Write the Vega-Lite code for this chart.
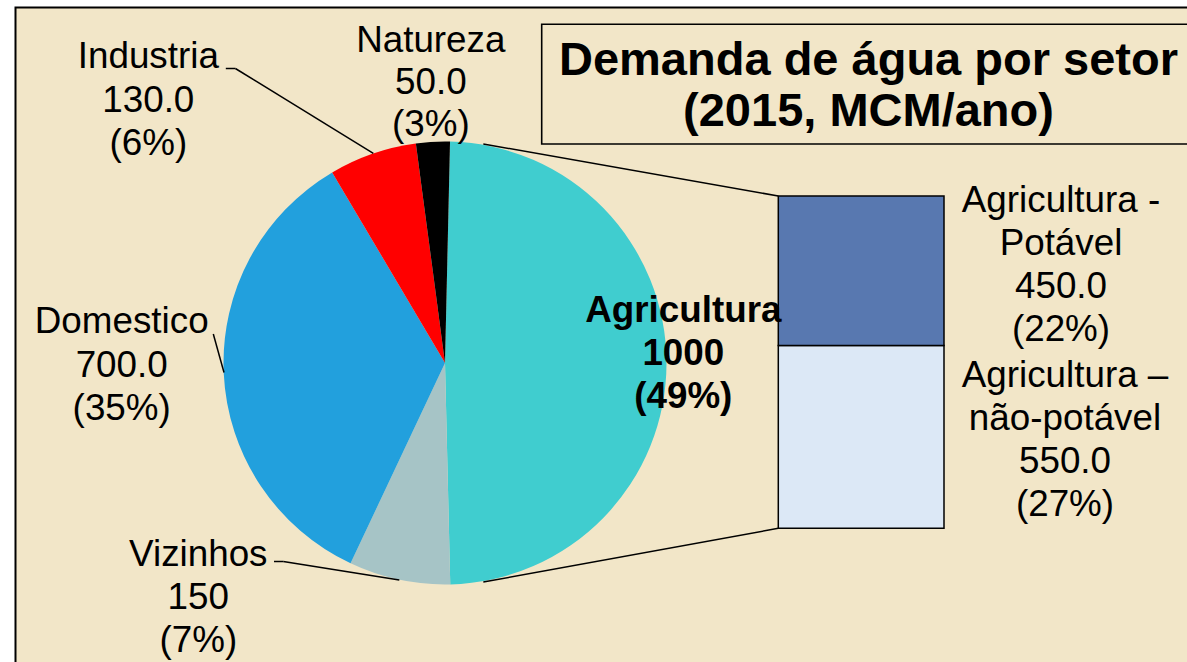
{
  "$schema": "https://vega.github.io/schema/vega-lite/v6.json",
  "width": 1187,
  "height": 662,
  "autosize": "none",
  "padding": 0,
  "background": "white",
  "config": {"view": {"stroke": null}, "font": "Liberation Sans"},
  "datasets": {
    "pie": [
      {"sector": "Agricultura", "value": 1000, "order": 1, "label": ["Agricultura", "1000", "(49%)"]},
      {"sector": "Vizinhos", "value": 150, "order": 2, "label": ["Vizinhos", "150", "(7%)"]},
      {"sector": "Domestico", "value": 700, "order": 3, "label": ["Domestico", "700.0", "(35%)"]},
      {"sector": "Industria", "value": 130, "order": 4, "label": ["Industria", "130.0", "(6%)"]},
      {"sector": "Natureza", "value": 50, "order": 5, "label": ["Natureza", "50.0", "(3%)"]}
    ],
    "bar": [
      {"sector": "Agricultura – não-potável", "value": 550, "order": 1, "label": ["Agricultura –", "não-potável", "550.0", "(27%)"]},
      {"sector": "Agricultura - Potável", "value": 450, "order": 2, "label": ["Agricultura -", "Potável", "450.0", "(22%)"]}
    ]
  },
  "layer": [
    {
      "data": {"values": [{}]},
      "mark": {"type": "rect", "fill": "#F2E6C8", "stroke": "black", "strokeWidth": 2},
      "encoding": {"x": {"value": 15.5}, "y": {"value": 7.5}, "x2": {"value": 1200}, "y2": {"value": 700}}
    },
    {
      "data": {"values": [{}]},
      "mark": {"type": "rect", "fillOpacity": 0, "stroke": "black", "strokeWidth": 1.6},
      "encoding": {"x": {"value": 541.7}, "y": {"value": 24.3}, "x2": {"value": 1200}, "y2": {"value": 144}}
    },
    {
      "data": {"name": "pie"},
      "mark": {"type": "arc", "radius": 221.5},
      "encoding": {
        "x": {"value": 445},
        "y": {"value": 363},
        "theta": {"field": "value", "type": "quantitative", "stack": true, "scale": {"range": [0.0227, 6.3059]}},
        "order": {"field": "order", "type": "quantitative"},
        "color": {
          "field": "sector", "type": "nominal", "legend": null,
          "scale": {"domain": ["Agricultura", "Vizinhos", "Domestico", "Industria", "Natureza"],
                    "range": ["#40CDCF", "#A6C4C6", "#22A0DD", "#FF0000", "#000000"]}
        }
      }
    },
    {
      "data": {"name": "bar"},
      "mark": {"type": "bar", "stroke": "black", "strokeWidth": 1.5, "width": 165.7},
      "encoding": {
        "x": {"value": 861.15},
        "y": {"field": "value", "type": "quantitative", "stack": "zero", "axis": null,
              "scale": {"domain": [0, 1000], "range": [528.3, 196], "nice": false}},
        "order": {"field": "order", "type": "quantitative"},
        "color": {
          "field": "sector", "type": "nominal", "legend": null,
          "scale": {"domain": ["Agricultura - Potável", "Agricultura – não-potável"], "range": ["#5878B0", "#DCE8F6"]}
        }
      }
    },
    {"data": {"values": [{}]}, "mark": {"type": "rule", "color": "black", "strokeWidth": 1.5}, "encoding": {"x": {"value": 483.3}, "y": {"value": 144}, "x2": {"value": 778.3}, "y2": {"value": 196}}},
    {"data": {"values": [{}]}, "mark": {"type": "rule", "color": "black", "strokeWidth": 1.5}, "encoding": {"x": {"value": 483.3}, "y": {"value": 582}, "x2": {"value": 778.3}, "y2": {"value": 528.3}}},
    {"data": {"values": [{}]}, "mark": {"type": "rule", "color": "black", "strokeWidth": 1.5}, "encoding": {"x": {"value": 225.8}, "y": {"value": 68.5}, "x2": {"value": 235.4}, "y2": {"value": 68.5}}},
    {"data": {"values": [{}]}, "mark": {"type": "rule", "color": "black", "strokeWidth": 1.5}, "encoding": {"x": {"value": 235.4}, "y": {"value": 68.5}, "x2": {"value": 373.3}, "y2": {"value": 153.3}}},
    {"data": {"values": [{}]}, "mark": {"type": "rule", "color": "black", "strokeWidth": 1.5}, "encoding": {"x": {"value": 213.3}, "y": {"value": 334}, "x2": {"value": 224}, "y2": {"value": 372.5}}},
    {"data": {"values": [{}]}, "mark": {"type": "rule", "color": "black", "strokeWidth": 1.5}, "encoding": {"x": {"value": 274}, "y": {"value": 561.5}, "x2": {"value": 283.3}, "y2": {"value": 561.5}}},
    {"data": {"values": [{}]}, "mark": {"type": "rule", "color": "black", "strokeWidth": 1.5}, "encoding": {"x": {"value": 283.3}, "y": {"value": 561.5}, "x2": {"value": 399.3}, "y2": {"value": 580}}},
    {
      "data": {"values": [{}]},
      "mark": {"type": "text", "text": ["Demanda de água por setor", "(2015, MCM/ano)"], "align": "center", "baseline": "alphabetic", "fontSize": 47, "fontWeight": "bold", "lineHeight": 50.5, "font": "Liberation Sans", "color": "black"},
      "encoding": {"x": {"value": 868.5}, "y": {"value": 75}}
    },
    {
      "data": {"name": "pie"},
      "transform": [{"filter": "datum.sector === 'Agricultura'"}],
      "mark": {"type": "text", "align": "center", "baseline": "alphabetic", "fontSize": 36.8, "fontWeight": "bold", "lineHeight": 43.4, "font": "Liberation Sans", "color": "black"},
      "encoding": {"x": {"value": 683.3}, "y": {"value": 321.7}, "text": {"field": "label"}}
    },
    {
      "data": {"name": "pie"},
      "transform": [{"filter": "datum.sector === 'Industria'"}],
      "mark": {"type": "text", "align": "center", "baseline": "alphabetic", "fontSize": 36.8, "lineHeight": 43.4, "font": "Liberation Sans", "color": "black"},
      "encoding": {"x": {"value": 148.3}, "y": {"value": 68.3}, "text": {"field": "label"}}
    },
    {
      "data": {"name": "pie"},
      "transform": [{"filter": "datum.sector === 'Natureza'"}],
      "mark": {"type": "text", "align": "center", "baseline": "alphabetic", "fontSize": 36.8, "lineHeight": 42, "font": "Liberation Sans", "color": "black"},
      "encoding": {"x": {"value": 430.8}, "y": {"value": 51.7}, "text": {"field": "label"}}
    },
    {
      "data": {"name": "pie"},
      "transform": [{"filter": "datum.sector === 'Domestico'"}],
      "mark": {"type": "text", "align": "center", "baseline": "alphabetic", "fontSize": 36.8, "lineHeight": 43.4, "font": "Liberation Sans", "color": "black"},
      "encoding": {"x": {"value": 121.7}, "y": {"value": 333.3}, "text": {"field": "label"}}
    },
    {
      "data": {"name": "pie"},
      "transform": [{"filter": "datum.sector === 'Vizinhos'"}],
      "mark": {"type": "text", "align": "center", "baseline": "alphabetic", "fontSize": 36.8, "lineHeight": 43, "font": "Liberation Sans", "color": "black"},
      "encoding": {"x": {"value": 198.3}, "y": {"value": 566}, "text": {"field": "label"}}
    },
    {
      "data": {"name": "bar"},
      "transform": [{"filter": "datum.order === 2"}],
      "mark": {"type": "text", "align": "center", "baseline": "alphabetic", "fontSize": 36.8, "lineHeight": 43, "font": "Liberation Sans", "color": "black"},
      "encoding": {"x": {"value": 1061}, "y": {"value": 211.7}, "text": {"field": "label"}}
    },
    {
      "data": {"name": "bar"},
      "transform": [{"filter": "datum.order === 1"}],
      "mark": {"type": "text", "align": "center", "baseline": "alphabetic", "fontSize": 36.8, "lineHeight": 43, "font": "Liberation Sans", "color": "black"},
      "encoding": {"x": {"value": 1065}, "y": {"value": 386.7}, "text": {"field": "label"}}
    }
  ],
  "resolve": {"scale": {"color": "independent", "y": "independent", "theta": "independent"}}
}
